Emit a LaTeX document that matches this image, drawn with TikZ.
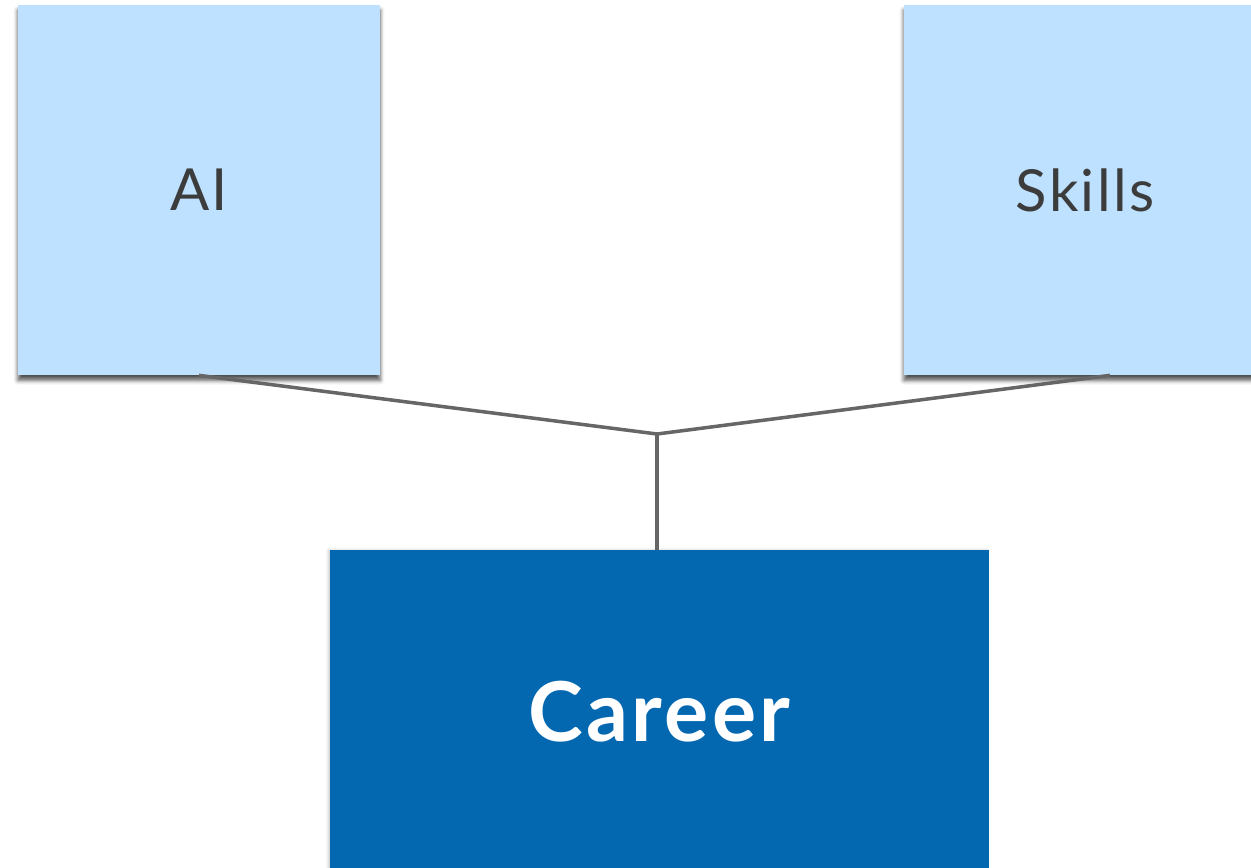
\documentclass[tikz,border=0pt]{standalone}
\usepackage{fontspec}
\setmainfont{Lato}
\newfontfamily\widelato[LetterSpace=4]{Lato}
\usetikzlibrary{shadows.blur}

\definecolor{paleblue}{HTML}{BDE1FE}
\definecolor{deepblue}{HTML}{0468B1}
\definecolor{inkgray}{HTML}{3C3C3C}
\definecolor{linkgray}{HTML}{666666}

\begin{document}
\begin{tikzpicture}
    \tikzset{
        topic/.style={fill=paleblue, text=inkgray, inner sep=0pt,
            minimum width=7.24cm, minimum height=7.4cm,
            font=\widelato\fontsize{33}{40}\selectfont,
            blur shadow={shadow xshift=0pt, shadow yshift=-3pt,
                shadow blur radius=2.5pt, shadow opacity=70}},
        goal/.style={fill=deepblue, text=white, inner sep=0pt,
            minimum width=13.18cm, minimum height=6.48cm,
            font=\widelato\fontsize{47}{56}\selectfont\bfseries,
            blur shadow={shadow xshift=-1pt, shadow yshift=0pt,
                shadow blur radius=1.5pt, shadow opacity=20}},
        link/.style={draw=linkgray, line width=2pt}
    }
    \useasboundingbox (0,0) rectangle (25.02,-17.34);
    \clip (0,0) rectangle (25.02,-17.34);
    % the two inputs
    \node[topic] (ai) at (3.98,-3.8) {AI};
    \node[topic] (skills) at (21.7,-3.8) {Skills};
    % what they lead to
    \node[goal] (career) at (13.19,-14.24) {Career};
    \coordinate (join) at (13.14,-8.68);
    \draw[link] (ai.south) -- (join) -- ([xshift=0.5cm]skills.south);
    \draw[link] (join) -- (join |- career.north);
\end{tikzpicture}
\end{document}
